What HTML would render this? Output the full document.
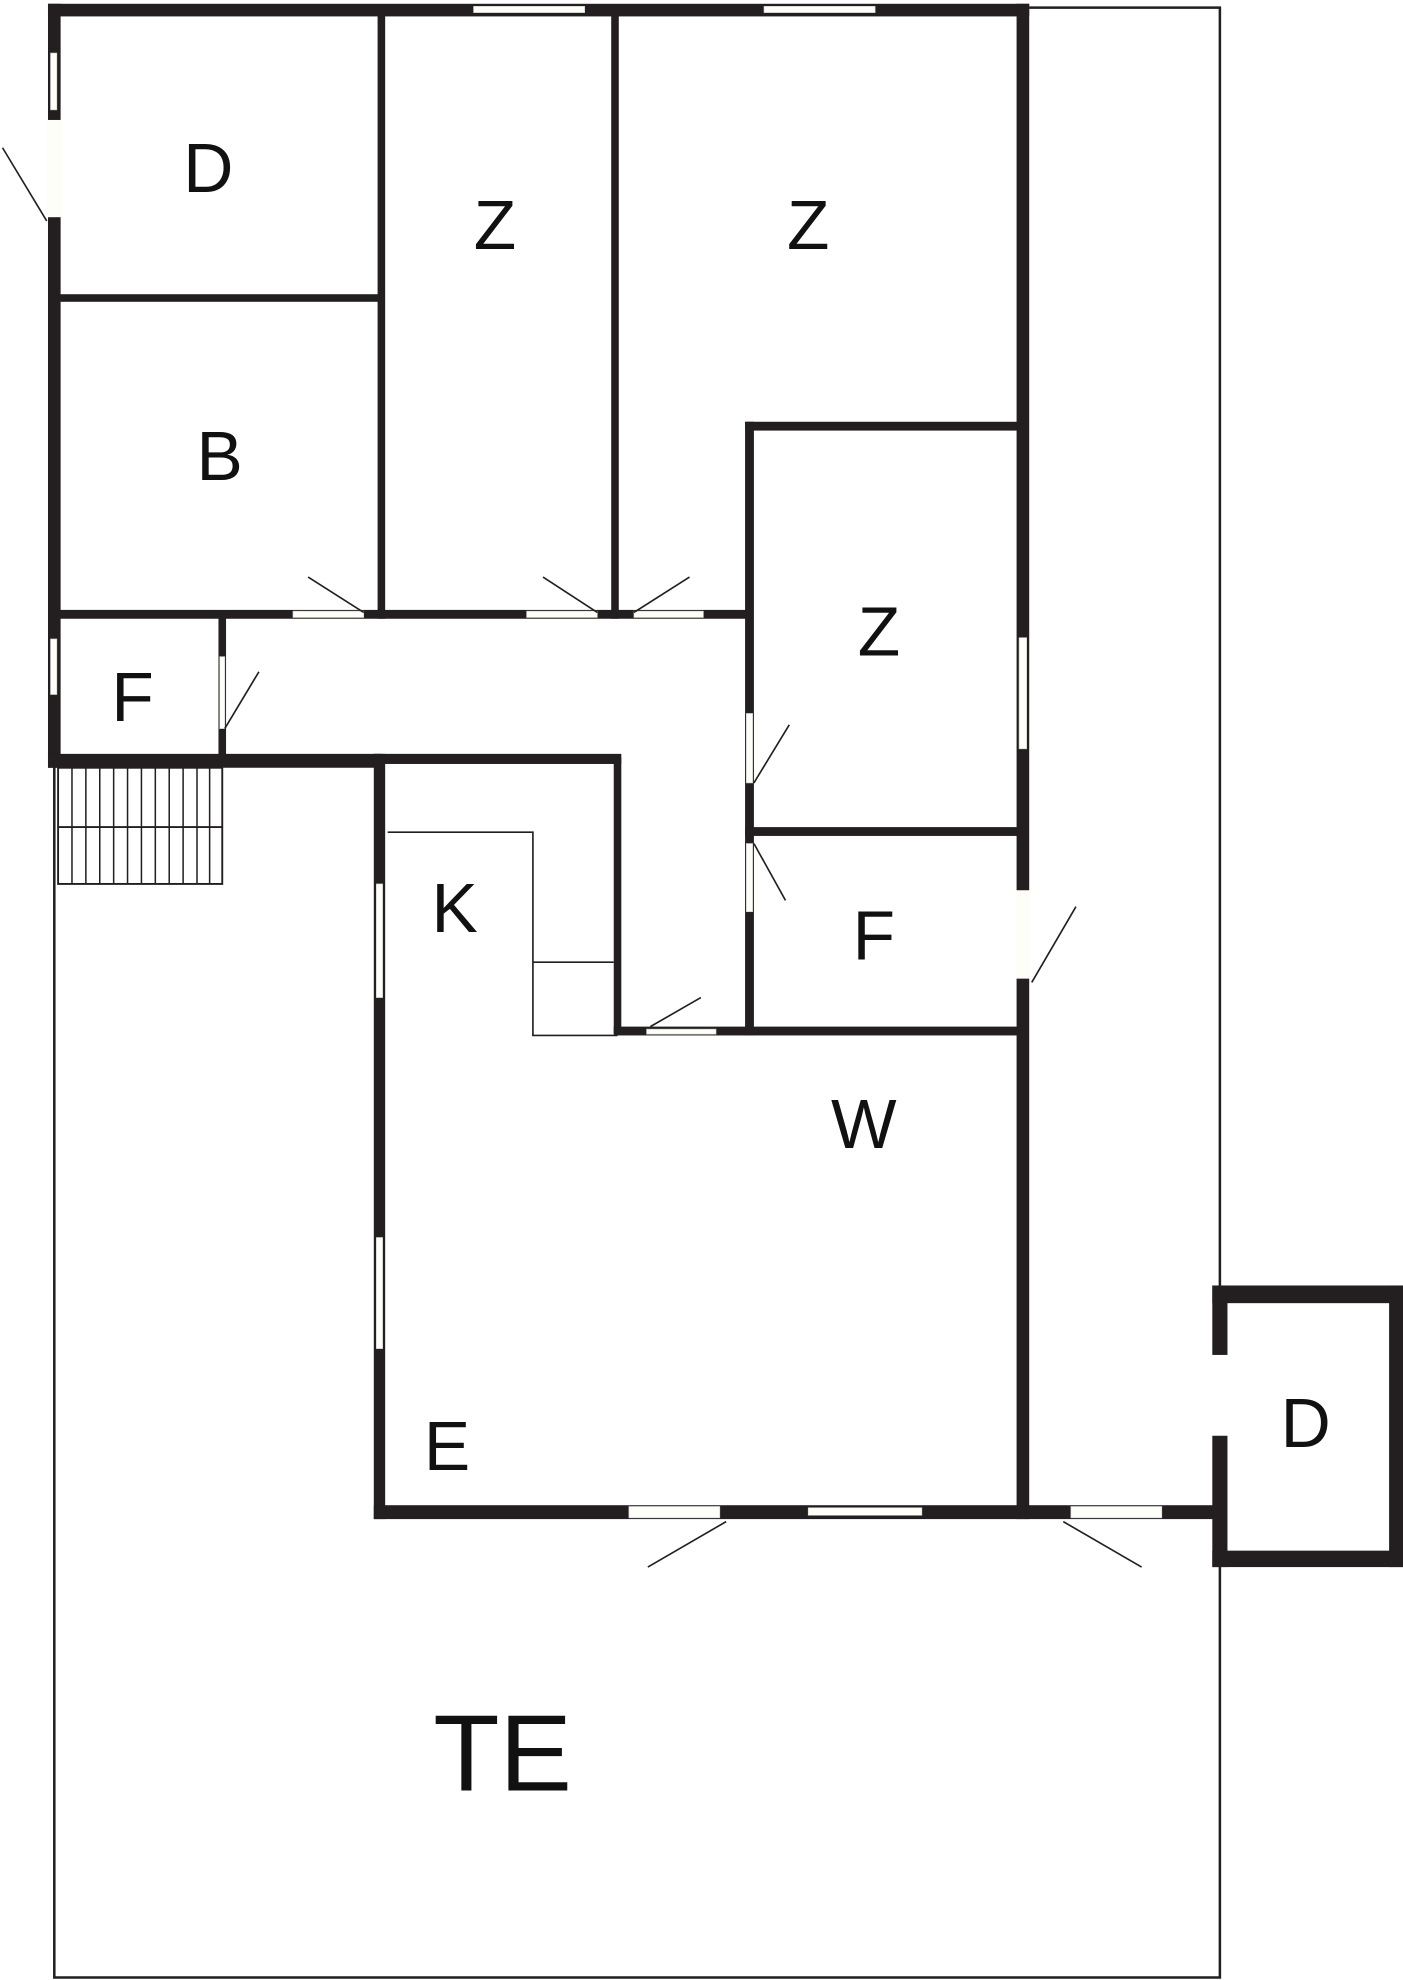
<!DOCTYPE html>
<html><head><style>html,body{margin:0;padding:0;background:#fff}svg{display:block}text{font-family:"Liberation Sans",sans-serif;fill:#111;text-anchor:middle}</style></head>
<body>
<svg width="1403" height="1980" viewBox="0 0 1111 1568" preserveAspectRatio="none" xmlns="http://www.w3.org/2000/svg">
<rect width="1111" height="1568" fill="#fff"/>
<g stroke="#231f20" fill="none" stroke-width="2">
<!-- terrace -->
<polyline points="43,603 43,1566 966,1566 966,1236"/>
<polyline points="815,6 966,6 966,1022"/>
<!-- stairs -->
<rect x="46" y="608" width="130" height="92" stroke-width="1.5"/>
<line x1="46" y1="655" x2="176" y2="655" stroke-width="1.5"/>
</g>
<g stroke="#231f20" stroke-width="1.2">
<line x1="57" y1="608" x2="57" y2="700"/><line x1="68" y1="608" x2="68" y2="700"/><line x1="79" y1="608" x2="79" y2="700"/><line x1="90" y1="608" x2="90" y2="700"/><line x1="101" y1="608" x2="101" y2="700"/><line x1="112" y1="608" x2="112" y2="700"/><line x1="123" y1="608" x2="123" y2="700"/><line x1="134" y1="608" x2="134" y2="700"/><line x1="145" y1="608" x2="145" y2="700"/><line x1="156" y1="608" x2="156" y2="700"/><line x1="166" y1="608" x2="166" y2="700"/>
</g>
<g fill="#231f20">
<!-- outer -->
<rect x="38" y="3" width="777" height="10"/>
<rect x="38" y="3" width="10" height="605"/>
<rect x="805" y="3" width="10" height="1200"/>
<rect x="38" y="597" width="264" height="11"/>
<rect x="296" y="597" width="196" height="8"/>
<rect x="296" y="597" width="9" height="606"/>
<rect x="296" y="1192" width="665" height="11"/>
<!-- internal -->
<rect x="299" y="8" width="6" height="482"/>
<rect x="484" y="8" width="6" height="482"/>
<rect x="43" y="233" width="259" height="6"/>
<rect x="43" y="483" width="552" height="7"/>
<rect x="173" y="487" width="6" height="116"/>
<rect x="590" y="334" width="220" height="7"/>
<rect x="590" y="334" width="7" height="486"/>
<rect x="590" y="655" width="220" height="7"/>
<rect x="486" y="813" width="324" height="7"/>
<rect x="486" y="600" width="6" height="218"/>
<!-- small D -->
<rect x="960" y="1018" width="151" height="14"/>
<rect x="960" y="1228" width="151" height="13"/>
<rect x="1100" y="1018" width="11" height="223"/>
<rect x="960" y="1018" width="12" height="55"/>
<rect x="960" y="1137" width="12" height="104"/>
</g>
<!-- openings -->
<g fill="#fefef8" stroke="#ccc" stroke-width="0.5">
<rect x="375" y="5" width="88" height="5"/><rect x="605" y="5" width="88" height="5"/>
<rect x="40" y="42" width="5" height="45"/><rect x="37" y="95" width="12" height="77" stroke="none"/>
<rect x="40" y="506" width="5" height="44"/>
<rect x="232" y="484" width="56" height="5"/><rect x="417" y="484" width="56" height="5"/><rect x="502" y="484" width="55" height="5"/>
<rect x="174" y="520" width="4" height="57"/>
<rect x="591" y="565" width="5" height="55"/><rect x="591" y="668" width="5" height="54"/>
<rect x="807" y="505" width="6" height="88"/><rect x="804" y="705" width="12" height="70" stroke="none"/>
<rect x="298" y="700" width="5" height="90"/><rect x="298" y="980" width="5" height="88"/>
<rect x="512" y="815" width="55" height="4"/>
<rect x="498" y="1193" width="72" height="9"/><rect x="640" y="1194" width="90" height="6"/><rect x="848" y="1193" width="72" height="9"/>
</g>
<g stroke="#231f20" stroke-width="1.3" fill="none">
<line x1="37" y1="175" x2="2" y2="117"/>
<line x1="288" y1="485" x2="244" y2="457"/><line x1="473" y1="485" x2="430" y2="457"/><line x1="502" y1="485" x2="546" y2="457"/>
<line x1="178" y1="577" x2="205" y2="532"/>
<line x1="597" y1="620" x2="625" y2="574"/><line x1="597" y1="668" x2="622" y2="713"/>
<line x1="817" y1="778" x2="852" y2="718"/>
<line x1="515" y1="813" x2="555" y2="790"/>
<line x1="575" y1="1205" x2="513" y2="1241"/><line x1="842" y1="1205" x2="904" y2="1241"/>
<polyline points="307,659 422,659 422,820 489,820"/>
<line x1="422" y1="762" x2="486" y2="762"/>
</g>
<g font-size="55">
<text x="165" y="152">D</text>
<text x="392" y="197">Z</text>
<text x="640" y="197">Z</text>
<text x="174" y="380">B</text>
<text x="696" y="519">Z</text>
<text x="105" y="571">F</text>
<text x="360" y="738">K</text>
<text x="692" y="760">F</text>
<text x="684" y="909">W</text>
<text x="354" y="1164">E</text>
<text x="1034" y="1146">D</text>
<text x="398" y="1418" font-size="86">TE</text>
</g>
</svg>
</body></html>
